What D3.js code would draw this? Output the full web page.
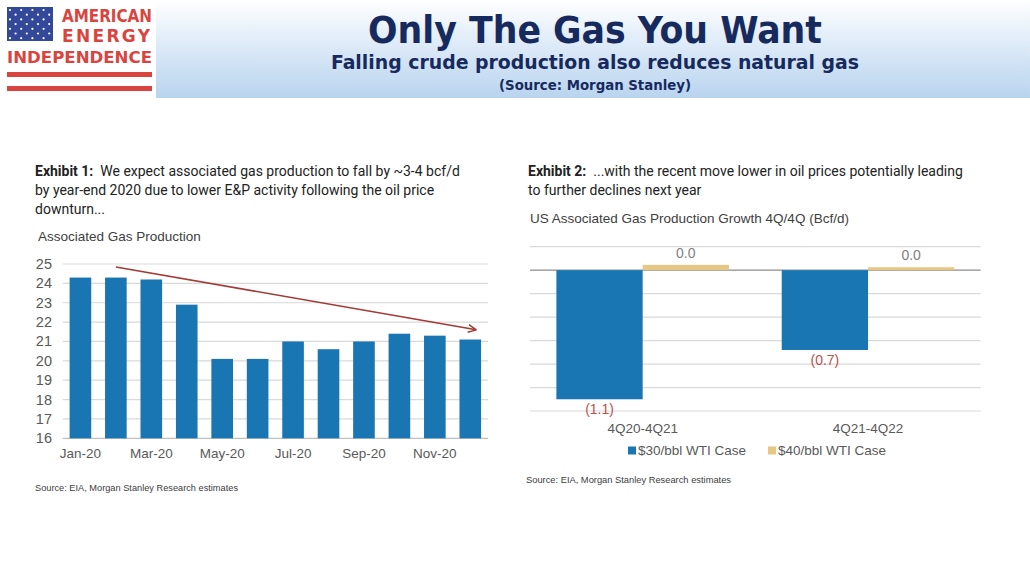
<!DOCTYPE html>
<html><head><meta charset="utf-8">
<script src="https://cdn.jsdelivr.net/npm/d3@7"></script>
<style>
html,body{margin:0;padding:0;background:#fff;}
svg{display:block;}
</style></head>
<body>
<script>
// ---------- DATA ----------
const months = ["Jan-20","Feb-20","Mar-20","Apr-20","May-20","Jun-20","Jul-20","Aug-20","Sep-20","Oct-20","Nov-20","Dec-20"];
const gasProduction = [24.3,24.3,24.2,22.9,20.1,20.1,21.0,20.6,21.0,21.4,21.3,21.1];
const leftTicks = [16,17,18,19,20,21,22,23,24,25];
const leftTickLabels = months.filter((m,i)=>i%2===0);
const trendStart = ["Feb-20", 24.85];
const trendEnd = ["Dec-20", 21.6];

const periods = ["4Q20-4Q21","4Q21-4Q22"];
const seriesNames = ["$30/bbl WTI Case","$40/bbl WTI Case"];
const wti30 = [-1.1,-0.68];
const wti40 = [0.045,0.025];
const rightTicks = [-1.2,-1.0,-0.8,-0.6,-0.4,-0.2,0,0.2];

// ---------- SVG ----------
const W=1030,H=579;
const svg=d3.select("body").append("svg").attr("width",W).attr("height",H);
const defs=svg.append("defs");
const grad=defs.append("linearGradient").attr("id","hdr").attr("x1",0).attr("y1",0).attr("x2",0).attr("y2",1);
grad.append("stop").attr("offset","0%").attr("stop-color","#ffffff");
grad.append("stop").attr("offset","30%").attr("stop-color","#e8f1fa");
grad.append("stop").attr("offset","100%").attr("stop-color","#b9d4ef");
svg.append("rect").attr("x",0).attr("y",0).attr("width",W).attr("height",98).attr("fill","url(#hdr)");

// Logo
const logo=svg.append("g");
logo.append("rect").attr("x",0).attr("y",0).attr("width",156).attr("height",98).attr("fill","#ffffff");
logo.append("rect").attr("x",7).attr("y",7).attr("width",46).attr("height",34).attr("fill","#34489a");
for(let r=0;r<7;r++){for(let c=0;c<8;c++){
  if((r+c)%2===0) logo.append("circle").attr("cx",10+c*5.6).attr("cy",10+r*4.7).attr("r",1.1).attr("fill","#fff");
}}
const red="#d9443e";
logo.append("text").attr("x",62).attr("y",21.5).attr("font-family","DejaVu Sans").attr("font-weight","bold")
  .attr("font-size",17).attr("fill",red).attr("textLength",90).attr("lengthAdjust","spacingAndGlyphs").text("AMERICAN");
logo.append("text").attr("x",62).attr("y",42).attr("font-family","DejaVu Sans").attr("font-weight","bold")
  .attr("font-size",17).attr("fill",red).attr("textLength",88).attr("lengthAdjust","spacing").text("ENERGY");
logo.append("text").attr("x",7).attr("y",63).attr("font-family","DejaVu Sans").attr("font-weight","bold")
  .attr("font-size",16.5).attr("fill",red).attr("textLength",145).attr("lengthAdjust","spacingAndGlyphs").text("INDEPENDENCE");
logo.append("rect").attr("x",7).attr("y",72).attr("width",145).attr("height",5).attr("fill",red);
logo.append("rect").attr("x",7).attr("y",86).attr("width",145).attr("height",5).attr("fill",red);

// Header titles
const navy="#172a5e";
svg.append("text").attr("x",595).attr("y",43).attr("text-anchor","middle").attr("font-family","DejaVu Sans Condensed, DejaVu Sans")
  .attr("font-weight","bold").attr("font-size",37).attr("fill",navy).attr("textLength",454).attr("lengthAdjust","spacingAndGlyphs").text("Only The Gas You Want");
svg.append("text").attr("x",595).attr("y",69).attr("text-anchor","middle").attr("font-family","DejaVu Sans Condensed, DejaVu Sans")
  .attr("font-weight","bold").attr("font-size",20).attr("fill",navy).attr("textLength",528).attr("lengthAdjust","spacingAndGlyphs").text("Falling crude production also reduces natural gas");
svg.append("text").attr("x",595).attr("y",90).attr("text-anchor","middle").attr("font-family","DejaVu Sans Condensed, DejaVu Sans")
  .attr("font-weight","bold").attr("font-size",14).attr("fill",navy).attr("textLength",192).attr("lengthAdjust","spacingAndGlyphs").text("(Source: Morgan Stanley)");

// Exhibit texts
function exhibit(x,y,bold,lines){
  const t=svg.append("text").attr("font-family","Roboto, Liberation Sans").attr("font-size",14).attr("fill","#222");
  lines.forEach((ln,i)=>{
    const tl=t.append("tspan").attr("x",x).attr("y",y+i*19.2);
    if(i===0){tl.append("tspan").attr("font-weight","bold").text(bold);}
    tl.append("tspan").text(ln);
  });
}
exhibit(35,176,"Exhibit 1:",["\u00a0\u00a0We expect associated gas production to fall by ~3-4 bcf/d","by year-end 2020 due to lower E&P activity following the oil price","downturn..."]);
exhibit(528,176,"Exhibit 2:",["\u00a0\u00a0...with the recent move lower in oil prices potentially leading","to further declines next year"]);

const axisFont="Liberation Sans, Arial";
svg.append("text").attr("x",38).attr("y",241).attr("font-family",axisFont).attr("font-size",13.5).attr("fill","#404040").text("Associated Gas Production");
svg.append("text").attr("x",530).attr("y",223).attr("font-family",axisFont).attr("font-size",13.5).attr("fill","#404040").text("US Associated Gas Production Growth 4Q/4Q (Bcf/d)");

// ---------- LEFT CHART ----------
const x=d3.scaleBand().domain(months).range([62.7,488]).paddingInner(0.39).paddingOuter(0.195);
const y=d3.scaleLinear().domain([16,25]).range([438.3,264]);
const gL=svg.append("g");
gL.selectAll("line.grid").data(leftTicks).join("line")
  .attr("x1",62.7).attr("x2",488).attr("y1",d=>y(d)).attr("y2",d=>y(d))
  .attr("stroke",d=>d===16?"#bfbfbf":"#d9d9d9").attr("stroke-width",1.2);
gL.selectAll("text.yt").data(leftTicks).join("text")
  .attr("x",52).attr("y",d=>y(d)+5).attr("text-anchor","end").attr("font-family",axisFont)
  .attr("font-size",14.5).attr("fill","#595959").text(d=>d);
gL.selectAll("rect.bar").data(gasProduction).join("rect")
  .attr("x",(d,i)=>x(months[i])).attr("width",x.bandwidth())
  .attr("y",d=>y(d)).attr("height",d=>y(16)-y(d)).attr("fill","#1a76b3");
gL.selectAll("text.xt").data(leftTickLabels).join("text")
  .attr("x",d=>x(d)+x.bandwidth()/2).attr("y",458).attr("text-anchor","middle").attr("font-family",axisFont)
  .attr("font-size",13.5).attr("fill","#595959").text(d=>d);
// trend arrow
const arrowRed="#a33a36";
const ax1=x(trendStart[0])+x.bandwidth()/2, ay1=y(trendStart[1]);
const ax2=x(trendEnd[0])+x.bandwidth()/2+6, ay2=y(trendEnd[1]);
gL.append("line").attr("x1",ax1).attr("y1",ay1).attr("x2",ax2).attr("y2",ay2).attr("stroke",arrowRed).attr("stroke-width",1.5);
const ang=Math.atan2(ay2-ay1,ax2-ax1);
[0.45,-0.45].forEach(a=>{
  gL.append("line").attr("x1",ax2).attr("y1",ay2)
    .attr("x2",ax2-9*Math.cos(ang+a)).attr("y2",ay2-9*Math.sin(ang+a))
    .attr("stroke",arrowRed).attr("stroke-width",1.5);
});

// ---------- RIGHT CHART ----------
const x0=d3.scaleBand().domain(periods).range([530,980.7]).padding(0);
const x1=d3.scaleBand().domain(seriesNames).range([0,x0.bandwidth()]).paddingInner(0).paddingOuter(0.3056);
const y2=d3.scaleLinear().domain([-1.2,0.2]).range([411,246.7]);
const gR=svg.append("g");
gR.selectAll("line.grid").data(rightTicks).join("line")
  .attr("x1",530).attr("x2",980.7).attr("y1",d=>y2(d)).attr("y2",d=>y2(d))
  .attr("stroke",d=>d===0?"#8c8c8c":"#d9d9d9").attr("stroke-width",d=>d===0?1.3:1.2);
const colors=["#1a76b3","#e7c784"];
const fmt=v=>v<0?"("+d3.format(".1f")(-v)+")":d3.format(".1f")(Math.abs(v));
[wti30,wti40].forEach((vals,si)=>{
  gR.selectAll("rect.s"+si).data(vals).join("rect")
    .attr("x",(d,i)=>x0(periods[i])+x1(seriesNames[si])).attr("width",x1.bandwidth())
    .attr("y",d=>y2(Math.max(0,d))).attr("height",d=>Math.abs(y2(d)-y2(0))).attr("fill",colors[si]);
  gR.selectAll("text.l"+si).data(vals).join("text")
    .attr("x",(d,i)=>x0(periods[i])+x1(seriesNames[si])+x1.bandwidth()/2)
    .attr("y",d=>d<0?y2(d)+15:y2(d)-7).attr("text-anchor","middle").attr("font-family",axisFont)
    .attr("font-size",14).attr("fill",d=>d<0?"#c0504d":"#7f7f7f").text(d=>fmt(d));
});
gR.selectAll("text.cat").data(periods).join("text")
  .attr("x",d=>x0(d)+x0.bandwidth()/2).attr("y",433).attr("text-anchor","middle").attr("font-family",axisFont)
  .attr("font-size",13.5).attr("fill","#595959").text(d=>d);
// legend
const legX=[628,768];
seriesNames.forEach((s,i)=>{
  gR.append("rect").attr("x",legX[i]).attr("y",446.5).attr("width",8).attr("height",8).attr("fill",colors[i]);
  gR.append("text").attr("x",legX[i]+10).attr("y",455).attr("font-family",axisFont).attr("font-size",13.5).attr("fill","#595959").text(s);
});

// sources
svg.append("text").attr("x",35).attr("y",491).attr("font-family","Liberation Sans Narrow, Liberation Sans").attr("font-size",9.5)
  .attr("fill","#404040").attr("textLength",203).attr("lengthAdjust","spacingAndGlyphs").text("Source: EIA, Morgan Stanley Research estimates");
svg.append("text").attr("x",526).attr("y",483).attr("font-family","Liberation Sans Narrow, Liberation Sans").attr("font-size",9.5)
  .attr("fill","#404040").attr("textLength",205).attr("lengthAdjust","spacingAndGlyphs").text("Source: EIA, Morgan Stanley Research estimates");
</script>
</body></html>
